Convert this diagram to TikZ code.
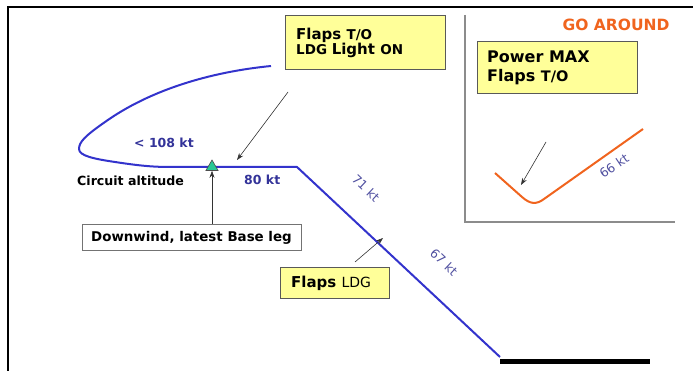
\documentclass[tikz,border=0pt]{standalone}
\usepackage{fontspec}
\setmainfont{DejaVu Sans}
\usetikzlibrary{arrows.meta,shapes.geometric}
\definecolor{pathblue}{RGB}{51,51,204}
\definecolor{lblblue}{RGB}{51,51,153}
\definecolor{rotblue}{RGB}{80,80,160}
\definecolor{boxyellow}{RGB}{255,255,153}
\definecolor{goorange}{RGB}{240,100,30}
\definecolor{trigreen}{RGB}{40,200,150}
\tikzset{
  ybox/.style={draw=black!65, fill=boxyellow, line width=1pt, inner sep=0pt, align=left, anchor=north west},
  wbox/.style={draw=black!55, fill=white, line width=1pt, inner sep=0pt, anchor=north west},
  bluelbl/.style={text=lblblue, font=\bfseries\fontsize{12.5}{14}\selectfont},
  rotlbl/.style={text=rotblue, font=\fontsize{12.5}{14}\selectfont},
  thinarrow/.style={draw=black!80, line width=0.6pt, -{Stealth[length=7pt,width=5pt]}},
}
\newcommand{\bigf}{\bfseries\fontsize{15}{18}\selectfont}
\newcommand{\smf}{\bfseries\fontsize{13.5}{18}\selectfont}
\begin{document}
\begin{tikzpicture}[x=1pt,y=-1pt]
\useasboundingbox (0,0) rectangle (693,371);
% frame
\draw[line width=1.2pt] (8,371) -- (8,7) -- (693,7);
% go around panel
\draw[black!45, line width=1.2pt] (465,15) -- (465,222) -- (675,222);
\node[anchor=east, text=goorange, font=\bfseries\fontsize{15.5}{17}\selectfont] (ga) at (673,25) {GO AROUND};
\node[ybox, minimum width=160pt, minimum height=52pt] (pbox) at (477,41) {};
\node[anchor=west, align=left, inner sep=0pt, font=\bfseries\fontsize{16}{19}\selectfont] (ptext) at (487,68) {Power MAX\\Flaps {\fontsize{14.5}{19}\selectfont T/O}};
% orange path
\coordinate (o1) at (495,173);
\coordinate (o2) at (643,129);
\draw[goorange, line width=2pt] (o1) -- (522,197) .. controls (530,204) and (536,205) .. (544,199) -- (o2);
\coordinate (ga0) at (546,142);
\coordinate (ga1) at (521,185);
\draw[thinarrow] (ga0) -- (ga1);
\node[rotlbl, rotate=34] (l66) at (614,166) {66 kt};
% blue path
\coordinate (b0) at (271,66);
\coordinate (bh) at (297,167);
\coordinate (bend) at (500,357);
\draw[pathblue, line width=2pt, line join=round] (b0) .. controls (210,72) and (150,90) .. (105,122)
  .. controls (85,136) and (79,142) .. (79,149)
  .. controls (79,156) and (95,159) .. (115,162)
  .. controls (135,165) and (150,167) .. (170,167) -- (bh) -- (bend);
% runway
\draw[line width=5pt] (500,361) -- (650,361);
% box 1
\node[ybox, minimum width=160pt, minimum height=54pt] (box1) at (285,15) {};
\node[anchor=west, align=left, inner sep=0pt] (t1) at (296,43) {{\bigf Flaps }{\smf T/O}\\[0pt]{\smf LDG }{\bigf Light }{\smf ON}};
\coordinate (a1s) at (288,92);
\coordinate (a1e) at (237,160);
\draw[thinarrow] (a1s) -- (a1e);
% labels
\node[bluelbl, anchor=west, inner sep=0pt] (l108) at (134,143) {< 108 kt};
\node[bluelbl, anchor=west, inner sep=0pt] (l80) at (244,180) {80 kt};
\node[anchor=west, inner sep=0pt, font=\bfseries\fontsize{12.6}{14}\selectfont] (circ) at (77,181) {Circuit altitude};
\node[rotlbl, rotate=-43.4] (l71) at (366,188) {71 kt};
\node[rotlbl, rotate=-43.4] (l67) at (444,262) {67 kt};
% triangle
\node[regular polygon, regular polygon sides=3, draw=black!70, fill=trigreen, inner sep=0pt, minimum size=14pt, line width=0.6pt] (tri) at (212,167) {};
% downwind box
\node[wbox, minimum width=219pt, minimum height=26pt] (dbox) at (82,224) {};
\node[anchor=center, inner sep=0pt, font=\bfseries\fontsize{13.4}{15}\selectfont] (dtext) at (191.5,237.5) {Downwind, latest Base leg};
\draw[thinarrow] (dbox.north -| tri) -- (tri.south);
% flaps LDG
\node[ybox, minimum width=109pt, minimum height=31pt] (box2) at (280,267) {};
\node[anchor=west, inner sep=0pt] (t2) at (291,283) {{\bigf Flaps }{\fontsize{14}{16}\selectfont LDG}};
\coordinate (a2s) at (355,262);
\coordinate (a2e) at (383,238);
\draw[thinarrow] (a2s) -- (a2e);
\end{tikzpicture}
\end{document}
